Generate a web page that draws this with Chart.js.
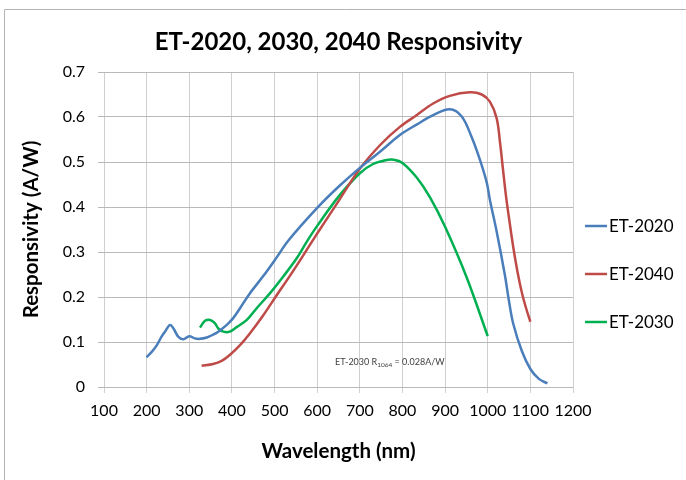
<!DOCTYPE html>
<html><head><meta charset="utf-8">
<script src="https://cdn.jsdelivr.net/npm/chart.js@4/dist/chart.umd.min.js"></script>
<style>html,body{margin:0;padding:0;background:#fff;overflow:hidden}canvas{display:block}</style>
</head><body>
<canvas id="c" width="686" height="480"></canvas>
<script>
const titleText = 'ET-2020, 2030, 2040 Responsivity';
const xAxisTitle = 'Wavelength (nm)';
const yAxisTitle = 'Responsivity (A/W)';
const seriesNames = ['ET-2020', 'ET-2040', 'ET-2030'];
const seriesColors = ['#4a7ebb', '#be4b48', '#00b050'];
const xTickValues = [100, 200, 300, 400, 500, 600, 700, 800, 900, 1000, 1100, 1200];
const yTickLabels = ['0', '0.1', '0.2', '0.3', '0.4', '0.5', '0.6', '0.7'];

const wl2020 = [200, 212, 224, 235, 243, 255, 263, 274, 286, 300, 313, 325, 341, 355, 368, 388, 403, 419, 442, 474, 505, 532, 600, 650, 700, 750, 794, 833, 872, 911, 939, 962, 982, 998, 1005, 1020, 1040, 1050, 1060, 1080, 1100, 1120, 1140];
const r2020 = [0.066, 0.078, 0.093, 0.112, 0.123, 0.138, 0.130, 0.112, 0.106, 0.113, 0.108, 0.107, 0.110, 0.116, 0.123, 0.138, 0.153, 0.175, 0.208, 0.247, 0.288, 0.325, 0.398, 0.445, 0.487, 0.525, 0.560, 0.583, 0.604, 0.617, 0.601, 0.556, 0.504, 0.453, 0.416, 0.350, 0.250, 0.190, 0.140, 0.080, 0.040, 0.018, 0.008];

const wl2040 = [329, 356, 376, 395, 419, 442, 474, 505, 536, 567, 587, 600, 650, 700, 750, 794, 833, 872, 911, 958, 986, 1005, 1021, 1029, 1036, 1043, 1050, 1060, 1070, 1080, 1090, 1100];
const r2040 = [0.047, 0.051, 0.058, 0.071, 0.093, 0.119, 0.160, 0.204, 0.247, 0.292, 0.322, 0.341, 0.413, 0.485, 0.540, 0.578, 0.604, 0.630, 0.647, 0.655, 0.650, 0.634, 0.597, 0.542, 0.482, 0.423, 0.375, 0.310, 0.255, 0.210, 0.175, 0.145];

const wl2030 = [325, 337, 349, 360, 368, 380, 395, 411, 435, 458, 489, 520, 552, 575, 600, 650, 700, 730, 760, 780, 800, 833, 865, 900, 950, 1000];
const r2030 = [0.132, 0.147, 0.149, 0.142, 0.130, 0.123, 0.123, 0.133, 0.149, 0.175, 0.208, 0.245, 0.286, 0.322, 0.358, 0.423, 0.475, 0.495, 0.504, 0.505, 0.498, 0.466, 0.421, 0.356, 0.245, 0.113];

const noteParts = ['ET-2030 R', '1064', ' = 0.028A/W'];
const noteAnchor = [642, 0.055];

function pts(xs, ys) { return xs.map((x, i) => ({x: x, y: ys[i]})); }

Chart.defaults.font.family = 'Lato';
Chart.defaults.color = '#000';

const framePlugin = {
  id: 'frame',
  beforeDraw(chart) {
    const ctx = chart.ctx;
    ctx.save();
    ctx.fillStyle = '#fff';
    ctx.fillRect(0, 0, chart.width, chart.height);
    ctx.strokeStyle = '#b4b4b4';
    ctx.lineWidth = 1;
    ctx.beginPath();
    ctx.moveTo(4.5, chart.height);
    ctx.lineTo(4.5, 9.5);
    ctx.lineTo(chart.width, 9.5);
    ctx.stroke();
    ctx.restore();
  }
};

const legendPlugin = {
  id: 'sideLegend',
  afterDraw(chart) {
    const ctx = chart.ctx;
    const a = chart.chartArea;
    const x0 = a.right + 12;
    const yc = (a.top + a.bottom) / 2 + 44.5;
    ctx.save();
    ctx.font = '17px Lato';
    ctx.textBaseline = 'middle';
    ctx.textAlign = 'left';
    chart.data.datasets.forEach((ds, i) => {
      const y = yc + (i - 1) * 48;
      ctx.strokeStyle = ds.borderColor;
      ctx.lineWidth = 2.5;
      ctx.beginPath();
      ctx.moveTo(x0, y);
      ctx.lineTo(x0 + 22, y);
      ctx.stroke();
      ctx.fillStyle = '#000';
      ctx.fillText(ds.label, x0 + 24, y + 1);
    });
    ctx.restore();
  }
};

const notePlugin = {
  id: 'note',
  afterDraw(chart) {
    const ctx = chart.ctx;
    const x = chart.scales.x.getPixelForValue(noteAnchor[0]);
    const y = chart.scales.y.getPixelForValue(noteAnchor[1]);
    ctx.save();
    ctx.fillStyle = '#404040';
    ctx.textBaseline = 'middle';
    ctx.textAlign = 'left';
    ctx.font = '9px Lato';
    let cx = x;
    ctx.fillText(noteParts[0], cx, y);
    cx += ctx.measureText(noteParts[0]).width;
    ctx.font = '6.5px Lato';
    ctx.fillText(noteParts[1], cx, y + 2.5);
    cx += ctx.measureText(noteParts[1]).width;
    ctx.font = '9px Lato';
    ctx.fillText(noteParts[2], cx, y);
    ctx.restore();
  }
};

new Chart(document.getElementById('c'), {
  type: 'line',
  data: {
    datasets: [
      {label: seriesNames[0], data: pts(wl2020, r2020), borderColor: seriesColors[0]},
      {label: seriesNames[1], data: pts(wl2040, r2040), borderColor: seriesColors[1]},
      {label: seriesNames[2], data: pts(wl2030, r2030), borderColor: seriesColors[2]}
    ]
  },
  options: {
    responsive: false,
    animation: false,
    devicePixelRatio: 1,
    elements: {
      point: {radius: 0},
      line: {borderWidth: 2.5, tension: 0.35, fill: false}
    },
    layout: {padding: {left: 4, right: 113, top: 0, bottom: 0}},
    plugins: {
      legend: {display: false},
      tooltip: {enabled: false},
      title: {
        display: true,
        text: titleText,
        fullSize: false,
        color: '#000',
        font: {family: 'Lato', size: 24, weight: 'bold', lineHeight: 1.2},
        padding: {top: 27.6, bottom: 15.6}
      }
    },
    scales: {
      x: {
        type: 'linear',
        min: xTickValues[0],
        max: xTickValues[xTickValues.length - 1],
        afterFit(s) { s.height = 93; },
        ticks: {
          stepSize: 100,
          autoSkip: false,
          maxRotation: 0,
          padding: 8,
          color: '#000',
          font: {size: 16},
          callback: (v) => xTickValues.includes(v) ? String(v) : ''
        },
        grid: {color: '#cfcfcf', lineWidth: 1, tickLength: 6},
        border: {display: false},
        title: {
          display: true, text: xAxisTitle, color: '#000',
          font: {size: 20.5, weight: 'bold', lineHeight: 1.2},
          padding: {top: 0, bottom: 16.5}
        }
      },
      y: {
        type: 'linear',
        min: 0,
        max: 0.7,
        afterFit(s) { s.width = 100; },
        ticks: {
          stepSize: 0.1,
          padding: 13,
          color: '#000',
          font: {size: 16},
          callback: (v, i) => yTickLabels[i]
        },
        grid: {color: '#b8b8b8', lineWidth: 1, tickLength: 6},
        border: {display: false},
        title: {
          display: true, text: yAxisTitle, color: '#000',
          font: {size: 20.5, weight: 'bold', lineHeight: 1.2},
          padding: {top: 15.5, bottom: 0}
        }
      }
    }
  },
  plugins: [framePlugin, legendPlugin, notePlugin]
});
</script>
</body></html>
